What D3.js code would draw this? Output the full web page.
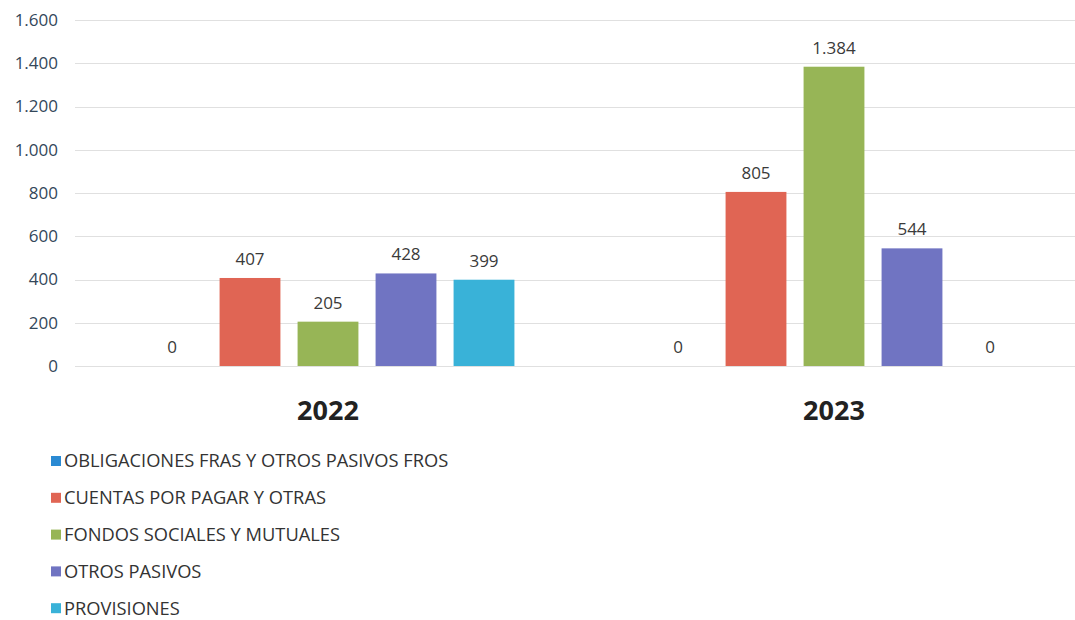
<!DOCTYPE html>
<html>
<head>
<meta charset="utf-8">
<script src="https://cdn.jsdelivr.net/npm/d3@7"></script>
<style>
  body { margin: 0; background: #fff; }
  svg { display: block; font-family: "Open Sans", sans-serif; }
</style>
</head>
<body>
<svg id="chart" width="1075" height="620"></svg>
<script>
const years = ["2022", "2023"];
const series = [
  "OBLIGACIONES FRAS Y OTROS PASIVOS FROS",
  "CUENTAS POR PAGAR Y OTRAS",
  "FONDOS SOCIALES Y MUTUALES",
  "OTROS PASIVOS",
  "PROVISIONES"
];
const values2022 = [0, 407, 205, 428, 399];
const values2023 = [0, 805, 1384, 544, 0];
const yTicks = [0, 200, 400, 600, 800, 1000, 1200, 1400, 1600];
const colors = ["#2a8ad3", "#e06554", "#97b556", "#7074c2", "#39b2d8"];

const valuesByYear = { "2022": values2022, "2023": values2023 };

var svg = d3.select("#chart");

var x0 = d3.scaleBand().domain(years).range([75, 1087]);
var x1 = d3.scaleBand()
  .domain(d3.range(series.length))
  .range([58, x0.bandwidth() - 58])
  .paddingInner(0.22)
  .paddingOuter(0.11);
var y = d3.scaleLinear().domain([0, 1600]).range([366, 20]);

var fmt = d3.formatLocale({ decimal: ",", thousands: ".", grouping: [3], currency: ["", ""] }).format(",");

// grid lines
svg.append("g")
  .selectAll("line")
  .data(yTicks)
  .enter()
  .append("line")
  .attr("x1", 75)
  .attr("x2", 1075)
  .attr("y1", d => Math.round(y(d)) + 0.5)
  .attr("y2", d => Math.round(y(d)) + 0.5)
  .attr("stroke", "#e0e0e0")
  .attr("stroke-width", 1);

// y axis labels
var yAxis = svg.append("g")
  .attr("transform", "translate(58,0)")
  .call(d3.axisLeft(y).tickValues(yTicks).tickSize(0).tickPadding(0).tickFormat(fmt));
yAxis.select(".domain").remove();
yAxis.selectAll("text")
  .attr("font-family", "Open Sans, sans-serif")
  .attr("font-size", 17)
  .attr("fill", "#33475a");

// bars
var groups = svg.append("g")
  .selectAll("g")
  .data(years)
  .enter()
  .append("g")
  .attr("transform", d => "translate(" + x0(d) + ",0)");

var cells = groups.selectAll("g")
  .data(yr => valuesByYear[yr].map((v, i) => ({ v: v, i: i })))
  .enter()
  .append("g");

cells.append("rect")
  .attr("x", d => x1(d.i))
  .attr("width", x1.bandwidth())
  .attr("y", d => y(d.v))
  .attr("height", d => y(0) - y(d.v))
  .attr("fill", d => colors[d.i]);

cells.append("text")
  .attr("x", d => x1(d.i) + x1.bandwidth() / 2)
  .attr("y", d => y(d.v) - 13)
  .attr("text-anchor", "middle")
  .attr("font-size", 17)
  .attr("fill", "#3a3a3a")
  .text(d => fmt(d.v));

// year labels
svg.append("g")
  .selectAll("text")
  .data(years)
  .enter()
  .append("text")
  .attr("x", d => x0(d) + x0.bandwidth() / 2)
  .attr("y", 420)
  .attr("text-anchor", "middle")
  .attr("font-size", 27)
  .attr("font-weight", "bold")
  .attr("fill", "#222")
  .text(d => d);

// legend
var legend = svg.append("g")
  .selectAll("g")
  .data(series)
  .enter()
  .append("g")
  .attr("transform", (d, i) => "translate(51," + (461 + i * 36.8) + ")");

legend.append("rect")
  .attr("x", 0)
  .attr("y", -5)
  .attr("width", 10)
  .attr("height", 10)
  .attr("fill", (d, i) => colors[i]);

legend.append("text")
  .attr("x", 13)
  .attr("y", 0)
  .attr("dy", "0.35em")
  .attr("font-size", 18.3)
  .attr("fill", "#333")
  .text(d => d);
</script>
</body>
</html>
